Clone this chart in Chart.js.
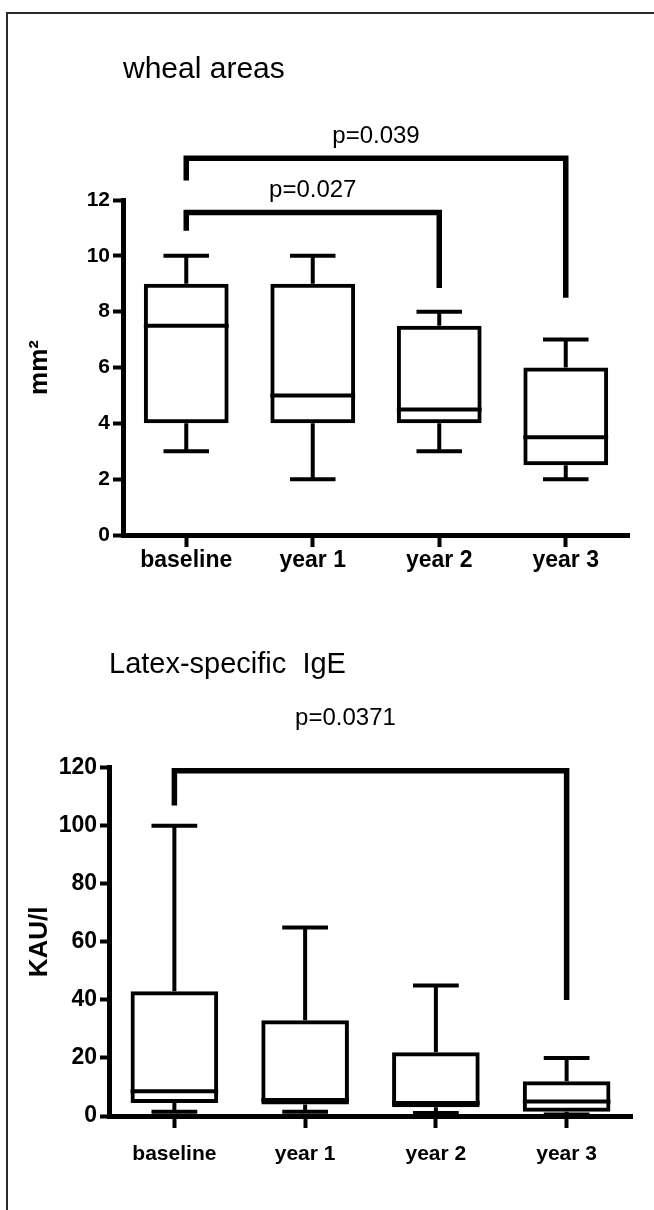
<!DOCTYPE html>
<html>
<head>
<meta charset="utf-8">
<script src="https://cdn.jsdelivr.net/npm/chart.js@4.4.1/dist/chart.umd.min.js"></script>
<style>
  body { margin: 0; background: #fff; }
  #page { position: relative; width: 654px; height: 1210px; overflow: hidden; background: #fff; }
  canvas { position: absolute; left: 0; }
  #wheal-chart { top: 0; }
  #ige-chart { top: 600px; }
  #frame { position: absolute; left: 6px; top: 12px; width: 700px; height: 1300px;
           border-left: 2px solid #2b2b2b; border-top: 2px solid #2b2b2b; }
</style>
</head>
<body>
<div id="page">
  <canvas id="wheal-chart" width="654" height="600"></canvas>
  <canvas id="ige-chart" width="654" height="610"></canvas>
  <div id="frame"></div>
</div>
<script>
const groups = ['baseline', 'year 1', 'year 2', 'year 3'];

// wheal areas (mm2)
const whealMin = [3, 2, 3, 2];
const whealQ1 = [4, 4, 4, 2.5];
const whealMedian = [7.5, 5, 4.5, 3.5];
const whealQ3 = [9, 9, 7.5, 6];
const whealMax = [10, 10, 8, 7];
const whealTicks = [0, 2, 4, 6, 8, 10, 12];

const whealPairFrom = [0, 0];
const whealPairTo = [2, 3];
const whealPairTop = [11.55, 13.5];
const whealPairLeftEnd = [10.9, 12.7];
const whealPairRightEnd = [8.85, 8.5];
const whealPValues = ['p=0.027', 'p=0.039'];

// latex-specific IgE (KAU/l)
const igeMin = [1.5, 1.5, 1, 0.5];
const igeQ1 = [4.5, 4, 3, 1.5];
const igeMedian = [8.5, 5.5, 4.5, 5];
const igeQ3 = [43, 33, 22, 12];
const igeMax = [100, 65, 45, 20];
const igeTicks = [0, 20, 40, 60, 80, 100, 120];

const igePairFrom = [0];
const igePairTo = [3];
const igePairTop = [119];
const igePairLeftEnd = [107];
const igePairRightEnd = [40];
const igePValues = ['p=0.0371'];

const FONT = "'Liberation Sans', Arial, Helvetica, sans-serif";

// whiskers, caps, medians and the significance brackets
function boxExtras(stats, pairs, style) {
    return {
        id: 'boxExtras',
        afterDraw(chart) {
            const ctx = chart.ctx;
            const x = chart.scales.x;
            const y = chart.scales.y;
            const bars = chart.getDatasetMeta(0).data;
            const step = x.getPixelForValue(1) - x.getPixelForValue(0);
            const cap = step * style.capWidth / 2;

            ctx.save();
            ctx.strokeStyle = '#000';
            ctx.lineCap = 'butt';
            ctx.lineWidth = 4;
            bars.forEach((bar, i) => {
                const cx = bar.x;
                const half = bar.width / 2;
                const yMed = y.getPixelForValue(stats.median[i]);
                const yMax = y.getPixelForValue(stats.max[i]);
                const yMin = y.getPixelForValue(stats.min[i]);
                ctx.beginPath();
                ctx.moveTo(cx - half, yMed);
                ctx.lineTo(cx + half, yMed);
                ctx.moveTo(cx, y.getPixelForValue(stats.q3[i]));
                ctx.lineTo(cx, yMax);
                ctx.moveTo(cx, y.getPixelForValue(stats.q1[i]));
                ctx.lineTo(cx, yMin);
                ctx.moveTo(cx - cap, yMax);
                ctx.lineTo(cx + cap, yMax);
                ctx.moveTo(cx - cap, yMin);
                ctx.lineTo(cx + cap, yMin);
                ctx.stroke();
            });

            ctx.lineWidth = style.bracketWidth;
            ctx.lineJoin = 'miter';
            ctx.fillStyle = '#000';
            ctx.font = style.labelFont;
            ctx.textAlign = 'center';
            ctx.textBaseline = 'middle';
            pairs.from.forEach((from, k) => {
                const x1 = x.getPixelForValue(from);
                const x2 = x.getPixelForValue(pairs.to[k]);
                const top = y.getPixelForValue(pairs.top[k]);
                ctx.beginPath();
                ctx.moveTo(x1, y.getPixelForValue(pairs.leftEnd[k]));
                ctx.lineTo(x1, top);
                ctx.lineTo(x2, top);
                ctx.lineTo(x2, y.getPixelForValue(pairs.rightEnd[k]));
                ctx.stroke();
                ctx.fillText(pairs.labels[k], (x1 + x2) / 2 + style.labelShift, top - style.labelGap);
            });
            ctx.restore();
        }
    };
}

function boxChart(canvasId, cfg) {
    const ctx = document.getElementById(canvasId).getContext('2d');
    return new Chart(ctx, {
        type: 'bar',
        data: {
            labels: groups,
            datasets: [{
                data: cfg.q1.map((q, i) => [q, cfg.q3[i]]),
                backgroundColor: 'rgba(0,0,0,0)',
                borderColor: '#000',
                borderWidth: 4,
                borderSkipped: false,
                barPercentage: 0.67,
                categoryPercentage: 1
            }]
        },
        options: {
            responsive: false,
            animation: false,
            devicePixelRatio: 1,
            layout: { padding: cfg.padding },
            plugins: {
                legend: { display: false },
                tooltip: { enabled: false },
                title: {
                    display: true,
                    text: cfg.title,
                    align: 'start',
                    fullSize: false,
                    color: '#000',
                    font: { family: FONT, size: cfg.titleFont, weight: 'normal' },
                    padding: cfg.titlePadding
                }
            },
            scales: {
                x: {
                    offset: true,
                    grid: { offset: false, drawOnChartArea: false, tickLength: 12, tickWidth: 4, tickColor: '#000' },
                    border: { color: '#000', width: 5 },
                    ticks: { color: '#000', font: { family: FONT, size: cfg.xFont, weight: 'bold' }, padding: cfg.xPad, maxRotation: 0 },
                    afterFit: s => { s.height = cfg.xHeight; }
                },
                y: {
                    min: cfg.ticks[0],
                    max: cfg.ticks[cfg.ticks.length - 1],
                    grid: { drawOnChartArea: false, tickLength: cfg.yTick, tickWidth: 4, tickColor: '#000' },
                    border: { color: '#000', width: 5 },
                    ticks: { color: '#000', font: { family: FONT, size: cfg.yFont, weight: 'bold' }, padding: 3 },
                    afterBuildTicks: s => { s.ticks = cfg.ticks.map(v => ({ value: v })); },
                    title: {
                        display: true,
                        text: cfg.yTitle,
                        color: '#000',
                        font: { family: FONT, size: 26, weight: 'bold' },
                        padding: { top: 24, bottom: 0 }
                    },
                    afterFit: s => { s.width = cfg.yWidth; }
                }
            }
        },
        plugins: [boxExtras(
            { min: cfg.min, q1: cfg.q1, median: cfg.median, q3: cfg.q3, max: cfg.max },
            cfg.pairs,
            cfg.style
        )]
    });
}

boxChart('wheal-chart', {
    title: 'wheal areas',
    yTitle: 'mm²',
    min: whealMin, q1: whealQ1, median: whealMedian, q3: whealQ3, max: whealMax,
    ticks: whealTicks,
    pairs: { from: whealPairFrom, to: whealPairTo, top: whealPairTop, leftEnd: whealPairLeftEnd, rightEnd: whealPairRightEnd, labels: whealPValues },
    style: { capWidth: 0.36, bracketWidth: 5.5, labelFont: '24px ' + FONT, labelGap: 22, labelShift: 0 },
    padding: { left: 0, right: 25, top: 0, bottom: 10 },
    titleFont: 30,
    titlePadding: { top: 52, bottom: 112 },
    xFont: 23, xPad: 0, xHeight: 55,
    yFont: 21, yTick: 10, yWidth: 123
});

boxChart('ige-chart', {
    title: 'Latex-specific  IgE',
    yTitle: 'KAU/l',
    min: igeMin, q1: igeQ1, median: igeMedian, q3: igeQ3, max: igeMax,
    ticks: igeTicks,
    pairs: { from: igePairFrom, to: igePairTo, top: igePairTop, leftEnd: igePairLeftEnd, rightEnd: igePairRightEnd, labels: igePValues },
    style: { capWidth: 0.35, bracketWidth: 5.5, labelFont: '24px ' + FONT, labelGap: 52, labelShift: -25 },
    padding: { left: 0, right: 22, top: 0, bottom: 24 },
    titleFont: 29,
    titlePadding: { top: 48, bottom: 85 },
    xFont: 21, xPad: 14, xHeight: 70,
    yFont: 23, yTick: 9, yWidth: 109
});
</script>
</body>
</html>
